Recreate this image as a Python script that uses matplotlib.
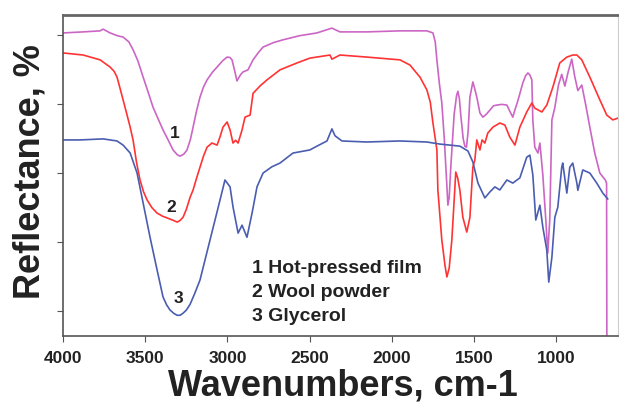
import numpy as np
import matplotlib.pyplot as plt

# ---------------------------------------------------------------
# datos (numero de onda, reflectancia arb.)
# ---------------------------------------------------------------

wn_film = [4000, 3878, 3775, 3757, 3714, 3670, 3635, 3600, 3574, 3545, 3513, 3483, 3453,
           3420, 3392, 3360, 3331, 3305, 3288, 3265, 3246, 3225, 3209, 3188, 3167, 3145,
           3124, 3090, 3063, 3030, 3002, 2985, 2972, 2955, 2942, 2920, 2905, 2875, 2844,
           2810, 2783, 2720, 2662, 2560, 2455, 2364, 2315, 2151, 1950, 1786, 1749, 1735,
           1725, 1710, 1695, 1680, 1665, 1658, 1650, 1640, 1620, 1605, 1597, 1588, 1580,
           1565, 1555, 1545, 1535, 1524, 1506, 1495, 1482, 1463, 1445, 1425, 1403, 1380,
           1360, 1330, 1299, 1280, 1263, 1250, 1235, 1220, 1202, 1185, 1171, 1160, 1147,
           1141, 1129, 1110, 1098, 1080, 1062, 1050, 1038, 1025, 1007, 985, 965, 946,
           925, 904, 886, 867, 843, 820, 794, 764, 733, 700, 692, 690]
r_film = [100.6, 100.9, 101.2, 101.7, 100.6, 99.8, 99.4, 98.0, 95.7, 92.5, 87.8, 83.5, 79.1,
          75.5, 72.5, 69.5, 66.7, 65.3, 64.9, 65.5, 66.7, 69.8, 73.3, 78.0, 82.0, 85.0,
          87.0, 89.3, 90.7, 92.5, 93.6, 93.5, 92.8, 89.5, 86.7, 88.5, 89.3, 89.9, 92.8,
          95.0, 96.5, 97.8, 98.6, 99.8, 100.6, 102.0, 100.9, 100.9, 101.2, 101.2, 100.6, 98.0,
          92.8, 86.0, 80.3, 70.0, 57.0, 50.7, 53.0, 62.0, 77.0, 82.5, 83.7, 81.5, 77.0,
          70.0, 67.8, 67.5, 72.0, 82.0, 86.4, 84.5, 82.0, 77.4, 76.2, 77.0, 78.2, 79.5,
          79.7, 79.9, 79.7, 77.8, 76.2, 78.3, 80.5, 83.0, 86.1, 88.2, 89.0, 88.5, 87.0,
          75.4, 67.5, 65.8, 68.7, 59.4, 46.4, 36.8, 46.4, 75.4, 79.0, 85.5, 88.6, 85.2,
          89.5, 93.0, 88.0, 83.9, 85.5, 80.0, 73.3, 65.8, 60.0, 58.0, 57.0, 0.0]

wn_wool = [4000, 3878, 3775, 3714, 3690, 3672, 3655, 3635, 3612, 3592, 3574, 3553, 3532,
           3510, 3489, 3460, 3428, 3395, 3367, 3335, 3306, 3290, 3270, 3250, 3227, 3209,
           3188, 3167, 3145, 3124, 3094, 3063, 3045, 3027, 3002, 2984, 2966, 2950, 2935,
           2911, 2893, 2862, 2844, 2800, 2759, 2680, 2577, 2498, 2376, 2364, 2315, 2151,
           1950, 1889, 1828, 1786, 1765, 1749, 1735, 1725, 1719, 1695, 1675, 1664, 1650,
           1634, 1620, 1610, 1598, 1585, 1567, 1543, 1524, 1506, 1494, 1482, 1463, 1450,
           1433, 1415, 1384, 1342, 1311, 1281, 1250, 1220, 1178, 1147, 1129, 1086, 1056,
           1019, 977, 934, 898, 873, 843, 794, 733, 691, 654, 624]
r_wool = [94.8, 94.2, 92.8, 90.7, 89.5, 87.8, 84.8, 81.2, 77.0, 73.3, 69.5, 63.0, 58.0,
          54.5, 52.2, 50.0, 48.4, 47.5, 47.0, 46.4, 45.8, 46.2, 47.2, 49.5, 53.0, 55.1,
          58.5, 61.7, 65.0, 67.5, 68.7, 68.1, 70.5, 73.3, 74.8, 72.5, 68.7, 69.5, 68.7,
          72.5, 76.2, 76.8, 83.1, 85.3, 87.0, 89.9, 91.9, 93.3, 94.2, 93.0, 94.2, 93.6,
          92.8, 91.3, 87.8, 84.1, 80.5, 74.5, 70.0, 66.7, 55.1, 40.6, 33.0, 29.9, 32.5,
          40.6, 52.0, 60.3, 58.5, 55.0, 47.2, 42.9, 47.2, 61.7, 63.8, 69.6, 66.7, 69.6,
          68.7, 71.6, 73.3, 74.5, 73.9, 70.4, 68.1, 73.3, 77.7, 80.3, 78.8, 77.7, 79.7,
          84.9, 91.9, 93.6, 94.2, 94.2, 92.8, 87.8, 81.2, 76.8, 75.4, 75.9]

wn_glyc = [4000, 3897, 3757, 3672, 3635, 3592, 3550, 3513, 3471, 3428, 3392, 3370, 3349,
           3325, 3306, 3288, 3270, 3250, 3227, 3200, 3167, 3106, 3045, 3015, 2984, 2966,
           2935, 2911, 2881, 2850, 2820, 2783, 2730, 2680, 2601, 2498, 2455, 2394, 2364,
           2345, 2303, 2151, 1950, 1786, 1707, 1585, 1536, 1506, 1475, 1433, 1403, 1372,
           1342, 1299, 1263, 1220, 1178, 1159, 1141, 1123, 1098, 1080, 1056, 1044, 1025,
           1007, 989, 965, 959, 934, 916, 898, 873, 867, 837, 794, 752, 715, 685]
r_glyc = [69.6, 69.6, 69.9, 69.3, 68.1, 65.8, 60.0, 51.3, 41.4, 31.9, 24.1, 21.8, 20.3,
          19.3, 18.8, 18.8, 19.4, 20.3, 22.0, 25.0, 29.0, 40.6, 52.2, 58.0, 56.0, 50.2,
          42.6, 44.9, 41.4, 48.4, 56.0, 60.0, 61.8, 62.9, 65.8, 66.7, 67.8, 69.3, 72.8,
          70.8, 69.3, 69.0, 69.3, 69.0, 68.4, 67.8, 66.4, 63.2, 57.1, 52.8, 54.5, 56.0,
          55.1, 58.0, 57.1, 58.6, 64.6, 65.2, 59.5, 46.4, 50.7, 44.3, 37.7, 28.4, 35.6,
          47.2, 50.1, 61.7, 62.9, 54.2, 61.7, 62.9, 57.1, 55.0, 60.9, 60.0, 57.1, 54.2, 52.5]

leyenda = ["1 Hot-pressed film", "2 Wool powder", "3 Glycerol"]

######################################################################
# figura
######################################################################

plt.rcParams['font.family'] = ['Liberation Sans', 'DejaVu Sans']

fig = plt.figure(figsize=(6.19, 4.05), dpi=100)
ax = fig.add_axes([0.102, 0.170, 0.896, 0.793])

ax.plot(wn_film, r_film, color='#cc66c4', lw=1.2)
ax.plot(wn_wool, r_wool, color='#ff3333', lw=1.2)
ax.plot(wn_glyc, r_glyc, color='#4a5db0', lw=1.2)

ax.set_xlim(4000, 624)
ax.set_ylim(12.75, 105.8)
ax.set_xticks([4000, 3500, 3000, 2500, 2000, 1500, 1000])
ax.set_yticks([20, 40, 60, 80, 100])
ax.set_yticklabels([])
ax.tick_params(axis='x', labelsize=12.5, length=4, color='#555555', pad=7)
ax.tick_params(axis='y', length=4, color='#555555')
for lab in ax.get_xticklabels():
    lab.set_fontweight('bold')
    lab.set_color('#222222')

for s in ['left', 'bottom']:
    ax.spines[s].set_color('#555555')
    ax.spines[s].set_linewidth(1.2)
ax.spines['top'].set_color('#666666')
ax.spines['top'].set_linewidth(2.0)
ax.spines['right'].set_color('#cccccc')

ax.set_xlabel("Wavenumbers, cm-1", fontsize=26, fontweight='bold', color='#222222')
ax.set_ylabel("Reflectance, %", fontsize=26, fontweight='bold', color='#222222')
ax.xaxis.set_label_coords(0.505, -0.100)
ax.yaxis.set_label_coords(-0.028, 0.511)

# numeros sobre las curvas
ax.text(3319, 71.6, "1", fontsize=12.5, fontweight='bold', color='#222222', ha='center', va='center')
ax.text(3343, 49.9, "2", fontsize=12.5, fontweight='bold', color='#222222', ha='center', va='center')
ax.text(3300, 23.8, "3", fontsize=12.5, fontweight='bold', color='#222222', ha='center', va='center')

for i in range(len(leyenda)):
    ax.text(0.341, 0.212 - i*0.075, leyenda[i], transform=ax.transAxes, fontsize=14,
            fontweight='bold', color='#222222', va='center')

plt.savefig("out.png", dpi=100)
